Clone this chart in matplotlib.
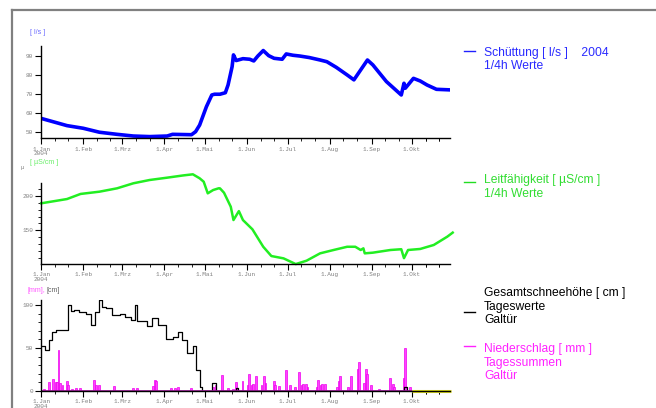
import numpy as np
import matplotlib
matplotlib.use("Agg")
from matplotlib import pyplot as plt
from matplotlib.lines import Line2D
from matplotlib.ticker import FixedLocator, MultipleLocator

# day of year 2004 (0 = 1.Jan)
month_days = [0, 31, 60, 91, 121, 152, 182, 213, 244, 274]
month_names = ["1.Jan\n2004", "1.Feb", "1.Mrz", "1.Apr", "1.Mai", "1.Jun",
               "1.Jul", "1.Aug", "1.Sep", "1.Okt"]
day_end = 302

# Schuettung [l/s]
q_day = [0, 19, 31, 43, 56, 68, 80, 93, 97, 111, 114, 117, 122, 126, 128, 132,
         136, 138, 141, 142, 144, 149, 154, 157, 160, 164, 168, 172, 178, 181,
         186, 191, 198, 206, 211, 218, 226, 231, 241, 245, 255, 266, 268, 269,
         275, 280, 285, 292, 302]
q_val = [57.0, 53.2, 51.8, 49.7, 48.6, 47.7, 47.4, 47.7, 48.6, 48.4, 50.0, 53.5,
         63.2, 69.4, 69.8, 69.8, 70.6, 74.7, 84.4, 90.6, 87.6, 88.6, 88.3, 87.4,
         90.0, 92.9, 90.2, 88.8, 88.3, 91.1, 90.4, 90.0, 89.2, 87.9, 87.0, 84.0,
         80.0, 77.4, 87.9, 85.3, 76.5, 69.4, 75.6, 73.0, 78.2, 76.8, 74.7, 72.4,
         72.1]

# Leitfaehigkeit [uS/cm]
ec_day = [0, 19, 29, 43, 56, 68, 80, 93, 105, 112, 117, 120, 123, 127, 131,
          132, 135, 140, 142, 146, 149, 156, 164, 170, 179, 188, 196, 206, 216,
          226, 232, 236, 238, 239, 245, 258, 266, 268, 271, 280, 290, 300, 304]
ec_val = [189.4, 195.6, 203.0, 206.3, 211.2, 218.5, 223.3, 226.7, 230.0, 231.6,
          225.8, 220.8, 203.9, 208.7, 211.2, 211.2, 204.8, 184.4, 165.0, 178.0,
          165.0, 151.5, 126.1, 112.6, 109.2, 100.9, 105.8, 116.5, 121.4, 126.1,
          126.1, 121.4, 123.8, 116.5, 117.5, 121.4, 122.5, 109.5, 121.4, 122.9,
          128.7, 140.8, 146.7]

# Gesamtschneehoehe [cm], Tageswerte (Stufen)
snow_day = [0, 3, 6, 8, 11, 20, 22, 24, 28, 33, 37, 40, 43, 45, 48, 52, 58, 62,
            66, 69, 71, 78, 82, 86, 92, 97, 101, 104, 108, 112, 114, 117, 119,
            126, 129, 144, 145, 268, 270, 274]
snow_val = [52, 48, 59, 69, 71, 100, 93, 94, 92, 90, 77, 92, 106, 98, 96, 88, 90,
            86, 83, 100, 81, 75, 85, 77, 61, 63, 69, 59, 44, 52, 24, 5, 0,
            9, 0, 4, 0, 5, 0, 0]

# Niederschlag [mm], Tagessummen
rain_day = [1, 5, 8, 10, 11, 12, 13, 15, 18, 19, 22, 25, 28, 38, 40, 42, 53, 67,
            70, 82, 83, 84, 95, 98, 100, 110, 126, 128, 133, 137, 141, 143, 148,
            152, 153, 155, 156, 158, 162, 164, 165, 171, 172, 175, 180, 183, 187,
            190, 192, 193, 195, 196, 203, 204, 206, 207, 209, 218, 219, 220, 226,
            228, 233, 234, 238, 239, 240, 243, 249, 257, 259, 260, 267, 268, 272]
rain_val = [2, 11, 14, 10, 11, 48, 9, 7, 12, 7, 2, 3, 3, 13, 7, 7, 6, 4,
            3, 6, 13, 12, 3, 3, 5, 3, 5, 7, 19, 3, 2, 10, 12,
            7, 20, 7, 8, 17, 7, 17, 9, 12, 7, 6, 24, 7, 5,
            22, 7, 8, 8, 5, 5, 13, 7, 8, 8, 5, 12, 18, 5,
            18, 25, 34, 9, 26, 20, 7, 2, 15, 8, 5, 15, 50, 5]

W, H = 656, 408
fig = plt.figure(figsize=(W / 100, H / 100), dpi=100)
fig.patch.set_facecolor("white")

def px_box(x0, y0, x1, y1):
    return [x0 / W, 1 - y1 / H, (x1 - x0) / W, (y1 - y0) / H]

tick_font = dict(family="Liberation Mono", size=4.3, color="#808080")

def style_axis(ax, ylim, major, minor=None):
    ax.set_xlim(0, day_end)
    ax.set_ylim(*ylim)
    for s in ("top", "right"):
        ax.spines[s].set_visible(False)
    for s in ("left", "bottom"):
        ax.spines[s].set_linewidth(1.0)
    ax.xaxis.set_major_locator(FixedLocator(month_days))
    ax.xaxis.set_minor_locator(FixedLocator(
        [d + o for d in month_days for o in (10, 20)] + [284, 294]))
    ax.set_xticklabels(month_names)
    ax.yaxis.set_major_locator(MultipleLocator(major))
    if minor:
        ax.yaxis.set_minor_locator(MultipleLocator(minor))
    ax.tick_params(which="major", length=4, width=0.8, pad=2)
    ax.tick_params(which="minor", length=2, width=0.6)
    for lab in ax.get_xticklabels() + ax.get_yticklabels():
        lab.set_fontfamily(tick_font["family"])
        lab.set_fontsize(tick_font["size"])
        lab.set_color(tick_font["color"])
        lab.set_linespacing(0.9)
    ax.patch.set_alpha(0)

# panel 1: Schuettung
ax1 = fig.add_axes(px_box(41.3, 46, 450, 138.3))
ax1.plot(q_day, q_val, color="#0000ff", lw=2.6, solid_joinstyle="round")
style_axis(ax1, (46.5, 95.3), 10)

# panel 2: Leitfaehigkeit
ax2 = fig.add_axes(px_box(41.3, 183.3, 450, 264))
ax2.plot(ec_day, ec_val, color="#22ee22", lw=1.8, clip_on=False)
style_axis(ax2, (101, 218.5), 50, 10)

# panel 3: Schnee und Niederschlag
ax3 = fig.add_axes(px_box(41.3, 300, 450, 391))
ax3.bar(rain_day, rain_val, width=1.4, color="#ff44ff", edgecolor="#ee00ee",
        linewidth=0.5, align="edge")
ax3.step(snow_day, snow_val, where="post", color="black", lw=0.9)
ax3.plot([0, 274], [0, 0], color="#a0209c", lw=2.0, solid_capstyle="butt")
ax3.plot([274, 303], [0, 0], color="#dede20", lw=2.2, solid_capstyle="butt",
         clip_on=False)
style_axis(ax3, (0, 105.8), 50, 10)

# frame
fig.add_artist(Line2D([12 / W, 12 / W], [0, 1 - 10 / H], color="#808080", lw=1.6))
fig.add_artist(Line2D([12 / W, 1], [1 - 10 / H, 1 - 10 / H], color="#808080", lw=1.6))

def ftext(x, y, s, **kw):
    fig.text(x / W, 1 - y / H, s, **kw)

# unit labels
ftext(30, 32, "[ l/s ]", color="#6a6aff", fontsize=5, va="center",
      family="Liberation Sans")
ftext(30, 163, "[ µS/cm ]", color="#66ee66", fontsize=5, va="center",
      family="Liberation Sans")
ftext(21, 167, "µ", color="#808080", fontsize=4, va="center",
      family="Liberation Mono")
ftext(27, 290, "[mm],", color="#ff55ff", fontsize=5, va="center",
      family="Liberation Sans")
ftext(46, 290, "[cm]", color="#606060", fontsize=5, va="center",
      family="Liberation Sans")

# legend (y = baseline of the last line)
leg_font = dict(fontsize=8.7, family="Liberation Sans", va="baseline",
                linespacing=1.15)

def legend_key(y, color):
    fig.add_artist(Line2D([464 / W, 475 / W], [1 - y / H, 1 - y / H],
                          color=color, lw=1.0))

legend_key(51, "#2020ff")
ftext(484, 69, "Schüttung [ l/s ]    2004\n1/4h Werte", color="#2a2aff",
      **leg_font)
legend_key(181.5, "#22dd22")
ftext(484, 196.5, "Leitfähigkeit [ µS/cm ]\n1/4h Werte", color="#33dd33",
      **leg_font)
legend_key(311.5, "black")
ftext(484, 323, "Gesamtschneehöhe [ cm ]\nTageswerte\nGaltür", color="black",
      **leg_font)
legend_key(346, "#ff22ff")
ftext(484, 379, "Niederschlag [ mm ]\nTagessummen\nGaltür", color="#ff22ff",
      **leg_font)

fig.savefig("out.png", dpi=100)
